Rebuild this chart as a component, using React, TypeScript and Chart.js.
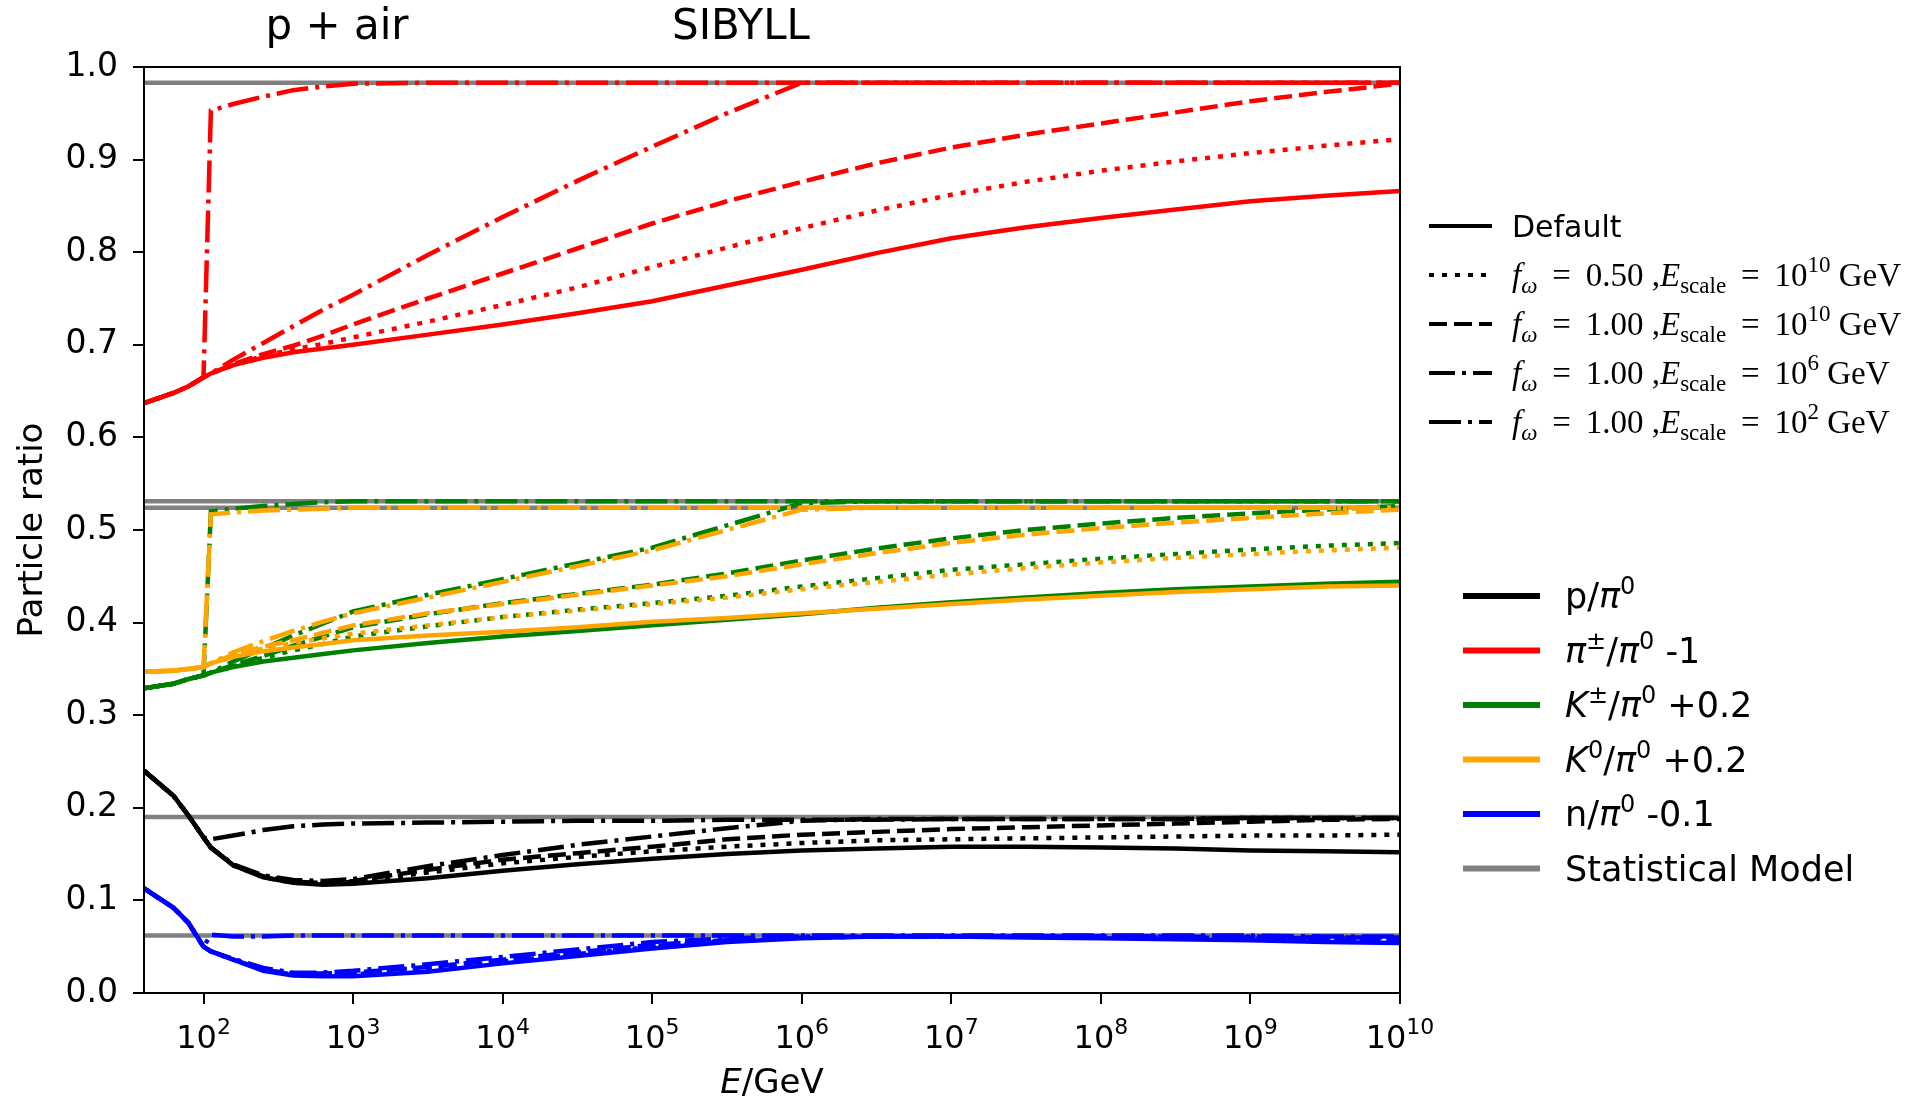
import React, { useEffect, useRef } from 'react';
import { Chart, registerables } from 'chart.js';

Chart.register(...registerables);

// ---------------- data ----------------
// energy grid (GeV)
const energies = [40, 63, 79, 100, 112, 158, 251, 398, 631, 1e3, 3.16e3, 1e4, 3.16e4, 1e5, 3.16e5, 1e6, 3.16e6, 1e7, 3.16e7, 1e8, 3.16e8, 1e9, 3.16e9, 1e10];

// pi+-/pi0 - 1 (red)
const redDefault = [0.637, 0.648, 0.655, 0.665, 0.669, 0.678, 0.686, 0.692, 0.696, 0.700, 0.711, 0.722, 0.734, 0.747, 0.764, 0.781, 0.799, 0.815, 0.827, 0.837, 0.846, 0.855, 0.861, 0.866];
const redDotted = [0.637, 0.648, 0.655, 0.665, 0.669, 0.678, 0.688, 0.695, 0.701, 0.708, 0.725, 0.743, 0.762, 0.784, 0.805, 0.826, 0.845, 0.862, 0.876, 0.888, 0.898, 0.907, 0.915, 0.922];
const redDashed = [0.637, 0.648, 0.655, 0.665, 0.669, 0.679, 0.690, 0.699, 0.710, 0.722, 0.750, 0.777, 0.804, 0.831, 0.855, 0.876, 0.896, 0.913, 0.927, 0.939, 0.951, 0.963, 0.973, 0.982];
const redDashDot6 = [0.637, 0.648, 0.655, 0.665, 0.669, 0.684, 0.702, 0.720, 0.738, 0.754, 0.797, 0.838, 0.877, 0.914, 0.950, 0.983, 0.983, 0.983, 0.983, 0.983, 0.983, 0.983, 0.983, 0.983];
const redDashDot2 = [0.637, 0.648, 0.655, 0.665, 0.953, 0.960, 0.968, 0.975, 0.979, 0.982, 0.983, 0.983, 0.983, 0.983, 0.983, 0.983, 0.983, 0.983, 0.983, 0.983, 0.983, 0.983, 0.983, 0.983];

// K+-/pi0 + 0.2 (green)
const greenDefault = [0.329, 0.334, 0.339, 0.343, 0.346, 0.352, 0.358, 0.362, 0.366, 0.370, 0.378, 0.385, 0.391, 0.397, 0.403, 0.409, 0.416, 0.422, 0.427, 0.432, 0.436, 0.439, 0.442, 0.444];
const greenDotted = [0.329, 0.334, 0.339, 0.343, 0.346, 0.353, 0.362, 0.370, 0.377, 0.385, 0.396, 0.406, 0.414, 0.421, 0.429, 0.439, 0.448, 0.457, 0.463, 0.469, 0.474, 0.479, 0.483, 0.486];
const greenDashed = [0.329, 0.334, 0.339, 0.343, 0.346, 0.354, 0.364, 0.375, 0.385, 0.395, 0.409, 0.421, 0.431, 0.441, 0.453, 0.467, 0.480, 0.491, 0.500, 0.507, 0.513, 0.518, 0.522, 0.526];
const greenDashDot6 = [0.329, 0.334, 0.339, 0.343, 0.346, 0.358, 0.372, 0.386, 0.399, 0.412, 0.430, 0.447, 0.464, 0.481, 0.505, 0.529, 0.531, 0.531, 0.531, 0.531, 0.531, 0.531, 0.531, 0.531];
const greenDashDot2 = [0.329, 0.334, 0.339, 0.343, 0.520, 0.523, 0.526, 0.528, 0.530, 0.531, 0.531, 0.531, 0.531, 0.531, 0.531, 0.531, 0.531, 0.531, 0.531, 0.531, 0.531, 0.531, 0.531, 0.531];

// K0/pi0 + 0.2 (orange)
const orangeDefault = [0.347, 0.348, 0.350, 0.352, 0.356, 0.363, 0.369, 0.373, 0.377, 0.381, 0.386, 0.390, 0.395, 0.401, 0.405, 0.410, 0.415, 0.420, 0.425, 0.429, 0.433, 0.436, 0.439, 0.440];
const orangeDotted = [0.347, 0.348, 0.350, 0.352, 0.356, 0.364, 0.372, 0.378, 0.383, 0.388, 0.397, 0.406, 0.413, 0.420, 0.427, 0.436, 0.444, 0.452, 0.459, 0.465, 0.470, 0.474, 0.478, 0.481];
const orangeDashed = [0.347, 0.348, 0.350, 0.352, 0.356, 0.365, 0.374, 0.381, 0.389, 0.397, 0.410, 0.420, 0.430, 0.440, 0.450, 0.463, 0.475, 0.486, 0.495, 0.502, 0.508, 0.513, 0.518, 0.522];
const orangeDashDot6 = [0.347, 0.348, 0.350, 0.352, 0.356, 0.368, 0.380, 0.391, 0.401, 0.410, 0.427, 0.444, 0.461, 0.478, 0.500, 0.522, 0.524, 0.524, 0.524, 0.524, 0.524, 0.524, 0.524, 0.524];
const orangeDashDot2 = [0.347, 0.348, 0.350, 0.352, 0.517, 0.519, 0.521, 0.522, 0.523, 0.524, 0.524, 0.524, 0.524, 0.524, 0.524, 0.524, 0.524, 0.524, 0.524, 0.524, 0.524, 0.524, 0.524, 0.524];

// p/pi0 (black)
const blackDefault = [0.240, 0.213, 0.192, 0.168, 0.157, 0.138, 0.125, 0.119, 0.117, 0.118, 0.124, 0.132, 0.139, 0.145, 0.150, 0.154, 0.156, 0.158, 0.158, 0.157, 0.156, 0.154, 0.153, 0.152];
const blackDotted = [0.240, 0.213, 0.192, 0.168, 0.157, 0.138, 0.125, 0.119, 0.118, 0.120, 0.130, 0.140, 0.147, 0.153, 0.158, 0.162, 0.165, 0.166, 0.167, 0.168, 0.169, 0.170, 0.170, 0.171];
const blackDashed = [0.240, 0.213, 0.192, 0.168, 0.157, 0.138, 0.126, 0.120, 0.119, 0.121, 0.133, 0.144, 0.151, 0.158, 0.166, 0.171, 0.174, 0.177, 0.179, 0.181, 0.183, 0.185, 0.187, 0.188];
const blackDashDot6 = [0.240, 0.213, 0.192, 0.168, 0.157, 0.139, 0.127, 0.122, 0.121, 0.123, 0.137, 0.149, 0.160, 0.169, 0.178, 0.186, 0.188, 0.188, 0.188, 0.188, 0.188, 0.189, 0.189, 0.189];
const blackDashDot2 = [0.240, 0.213, 0.192, 0.168, 0.166, 0.170, 0.176, 0.180, 0.182, 0.183, 0.184, 0.185, 0.186, 0.186, 0.187, 0.187, 0.187, 0.188, 0.188, 0.188, 0.188, 0.189, 0.189, 0.189];

// n/pi0 - 0.1 (blue)
const blueDefault = [0.113, 0.092, 0.076, 0.050, 0.045, 0.036, 0.024, 0.019, 0.018, 0.018, 0.023, 0.032, 0.040, 0.048, 0.055, 0.059, 0.061, 0.061, 0.060, 0.059, 0.058, 0.057, 0.055, 0.054];
const blueDotted = [0.113, 0.092, 0.076, 0.050, 0.045, 0.036, 0.025, 0.020, 0.019, 0.020, 0.026, 0.034, 0.042, 0.050, 0.056, 0.060, 0.061, 0.061, 0.061, 0.060, 0.060, 0.059, 0.058, 0.057];
const blueDashed = [0.113, 0.092, 0.076, 0.050, 0.045, 0.036, 0.025, 0.021, 0.021, 0.022, 0.028, 0.036, 0.044, 0.052, 0.057, 0.060, 0.061, 0.061, 0.061, 0.061, 0.061, 0.060, 0.059, 0.058];
const blueDashDot6 = [0.113, 0.092, 0.076, 0.050, 0.045, 0.037, 0.027, 0.022, 0.022, 0.024, 0.031, 0.039, 0.047, 0.055, 0.059, 0.061, 0.061, 0.061, 0.061, 0.061, 0.061, 0.061, 0.060, 0.060];
const blueDashDot2 = [0.113, 0.092, 0.076, 0.050, 0.063, 0.061, 0.061, 0.062, 0.062, 0.062, 0.062, 0.062, 0.062, 0.062, 0.062, 0.062, 0.062, 0.062, 0.062, 0.062, 0.062, 0.062, 0.061, 0.061];

// statistical model values
const statP = 0.19;
const statPi = 0.983;
const statKc = 0.531;
const statK0 = 0.524;
const statN = 0.062;

// tick labels / texts
const xTickExponents = [2, 3, 4, 5, 6, 7, 8, 9, 10];
const yTickStep = 0.1;
const titleLeft = 'p + air';
const titleRight = 'SIBYLL';
const yTitle = 'Particle ratio';

// ---------------- styles ----------------
const RED = '#ff0000';
const GREEN = '#008000';
const ORANGE = '#ffa500';
const BLACK = '#000000';
const BLUE = '#0000ff';
const GRAY = '#808080';
const SANS = "'DejaVu Sans', sans-serif";
const SERIF = "'Liberation Serif', 'DejaVu Serif', serif";
const LW = 4.5;

const DASH_DEFAULT: number[] = [];
const DASH_DOT: number[] = [5, 8];
const DASH_DASH: number[] = [18, 7];
const DASH_DD6: number[] = [26, 7, 4, 7];
const DASH_DD2: number[] = [32, 7, 4, 7];
const variantDashes = [DASH_DEFAULT, DASH_DOT, DASH_DASH, DASH_DD6, DASH_DD2];

const speciesList = [
  { color: BLACK, series: [blackDefault, blackDotted, blackDashed, blackDashDot6, blackDashDot2], stat: statP, order: 10 },
  { color: RED, series: [redDefault, redDotted, redDashed, redDashDot6, redDashDot2], stat: statPi, order: 10 },
  { color: ORANGE, series: [orangeDefault, orangeDotted, orangeDashed, orangeDashDot6, orangeDashDot2], stat: statK0, order: 20 },
  { color: GREEN, series: [greenDefault, greenDotted, greenDashed, greenDashDot6, greenDashDot2], stat: statKc, order: 30 },
  { color: BLUE, series: [blueDefault, blueDotted, blueDashed, blueDashDot6, blueDashDot2], stat: statN, order: 10 },
];

type Run = { t: string; font: string; dy?: number };

function measureRuns(ctx: CanvasRenderingContext2D, runs: Run[]) {
  let w = 0;
  for (const r of runs) {
    ctx.font = r.font;
    w += ctx.measureText(r.t).width;
  }
  return w;
}

function drawRuns(ctx: CanvasRenderingContext2D, x: number, y: number, runs: Run[]) {
  let cx = x;
  for (const r of runs) {
    ctx.font = r.font;
    ctx.fillText(r.t, cx, y + (r.dy || 0));
    cx += ctx.measureText(r.t).width;
  }
  return cx;
}

const annotPlugin = {
  id: 'annot',
  afterDatasetsDraw(chart: any) {
    const { ctx, chartArea } = chart;
    ctx.save();
    ctx.strokeStyle = '#000';
    ctx.lineWidth = 2;
    ctx.setLineDash([]);
    ctx.strokeRect(chartArea.left, chartArea.top, chartArea.right - chartArea.left, chartArea.bottom - chartArea.top);
    ctx.restore();
  },
  afterDraw(chart: any) {
    const ctx: CanvasRenderingContext2D = chart.ctx;
    const xs = chart.scales.x;
    const area = chart.chartArea;
    ctx.save();
    ctx.fillStyle = '#000';
    ctx.textBaseline = 'middle';
    ctx.textAlign = 'center';
    ctx.font = `42px ${SANS}`;
    ctx.fillText(titleLeft, 337, 28);
    ctx.fillText(titleRight, 741, 28);

    ctx.textAlign = 'left';
    ctx.textBaseline = 'alphabetic';

    // x tick labels 10^n drawn at the scale's pixel positions
    const TF = 32;
    for (const p of xTickExponents) {
      const px = xs.getPixelForValue(Math.pow(10, p));
      const runs: Run[] = [
        { t: '10', font: `${TF}px ${SANS}` },
        { t: String(p), font: `${Math.round(TF * 0.7)}px ${SANS}`, dy: -14 },
      ];
      const w = measureRuns(ctx, runs);
      drawRuns(ctx, px - w / 2, 1048, runs);
    }

    // x axis title  E/GeV
    const xt: Run[] = [
      { t: 'E', font: `oblique 34px ${SANS}` },
      { t: '/GeV', font: `34px ${SANS}` },
    ];
    const xtw = measureRuns(ctx, xt);
    drawRuns(ctx, (area.left + area.right) / 2 - xtw / 2, 1093, xt);

    // legend 1 (line styles)
    const M = 33;
    const S = 23;
    const it = `italic ${M}px ${SERIF}`;
    const rm = `${M}px ${SERIF}`;
    const sm = `${S}px ${SERIF}`;
    const smIt = `italic ${S}px ${SERIF}`;
    const EQ = ' \u2009=\u2009 ';
    const mathRow = (fw: string, exp: string): Run[] => [
      { t: 'f', font: it },
      { t: 'ω', font: smIt, dy: 7 },
      { t: `${EQ}${fw} ,`, font: rm },
      { t: 'E', font: it },
      { t: 'scale', font: sm, dy: 7 },
      { t: `${EQ}10`, font: rm },
      { t: exp, font: sm, dy: -14 },
      { t: ' GeV', font: rm },
    ];
    const leg1: { dash: number[]; runs: Run[] }[] = [
      { dash: DASH_DEFAULT, runs: [{ t: 'Default', font: `30px ${SANS}` }] },
      { dash: DASH_DOT, runs: mathRow('0.50', '10') },
      { dash: DASH_DASH, runs: mathRow('1.00', '10') },
      { dash: DASH_DD6, runs: mathRow('1.00', '6') },
      { dash: DASH_DD2, runs: mathRow('1.00', '2') },
    ];
    leg1.forEach((e, i) => {
      const y = 226 + i * 49;
      ctx.strokeStyle = '#000';
      ctx.lineWidth = 4;
      ctx.setLineDash(e.dash);
      ctx.beginPath();
      ctx.moveTo(1429, y);
      ctx.lineTo(1492, y);
      ctx.stroke();
      drawRuns(ctx, 1512, y + 11, e.runs);
    });

    // legend 2 (species)
    const L = 35;
    const SP = 24;
    const n = `${L}px ${SANS}`;
    const o = `oblique ${L}px ${SANS}`;
    const sup = `${SP}px ${SANS}`;
    const UP = -14;
    const leg2: { color: string; runs: Run[] }[] = [
      { color: BLACK, runs: [{ t: 'p/', font: n }, { t: 'π', font: o }, { t: '0', font: sup, dy: UP }] },
      { color: RED, runs: [{ t: 'π', font: o }, { t: '±', font: sup, dy: UP }, { t: '/', font: n }, { t: 'π', font: o }, { t: '0', font: sup, dy: UP }, { t: ' -1', font: n }] },
      { color: GREEN, runs: [{ t: 'K', font: o }, { t: '±', font: sup, dy: UP }, { t: '/', font: n }, { t: 'π', font: o }, { t: '0', font: sup, dy: UP }, { t: ' +0.2', font: n }] },
      { color: ORANGE, runs: [{ t: 'K', font: o }, { t: '0', font: sup, dy: UP }, { t: '/', font: n }, { t: 'π', font: o }, { t: '0', font: sup, dy: UP }, { t: ' +0.2', font: n }] },
      { color: BLUE, runs: [{ t: 'n/', font: n }, { t: 'π', font: o }, { t: '0', font: sup, dy: UP }, { t: ' -0.1', font: n }] },
      { color: GRAY, runs: [{ t: 'Statistical Model', font: n }] },
    ];
    leg2.forEach((e, i) => {
      const y = 596 + i * 54.5;
      ctx.strokeStyle = e.color;
      ctx.lineWidth = 6;
      ctx.setLineDash([]);
      ctx.beginPath();
      ctx.moveTo(1463, y);
      ctx.lineTo(1540, y);
      ctx.stroke();
      drawRuns(ctx, 1565, y + 12, e.runs);
    });
    ctx.restore();
  },
};

function buildDatasets() {
  const ds: any[] = [];
  for (const sp of speciesList) {
    sp.series.forEach((vals, vi) => {
      ds.push({
        label: `${sp.color}-${vi}`,
        data: energies.map((e, i) => ({ x: e, y: vals[i] })),
        borderColor: sp.color,
        backgroundColor: sp.color,
        borderWidth: LW,
        borderDash: variantDashes[vi],
        pointRadius: 0,
        tension: 0,
        fill: false,
        order: sp.order,
      });
    });
  }
  for (const sp of speciesList) {
    ds.push({
      label: `stat-${sp.color}`,
      data: [
        { x: energies[0], y: sp.stat },
        { x: energies[energies.length - 1], y: sp.stat },
      ],
      borderColor: GRAY,
      backgroundColor: GRAY,
      borderWidth: LW,
      pointRadius: 0,
      fill: false,
      order: 100,
    });
  }
  return ds;
}

export default function App() {
  const ref = useRef<HTMLCanvasElement>(null);
  useEffect(() => {
    document.body.style.margin = '0';
    document.body.style.overflow = 'hidden';
    const chart = new Chart(ref.current as HTMLCanvasElement, {
      type: 'line',
      data: { datasets: buildDatasets() },
      plugins: [annotPlugin],
      options: {
        animation: false,
        responsive: false,
        devicePixelRatio: 1,
        layout: { padding: { left: 0, right: 517, top: 67, bottom: 0 } },
        plugins: { legend: { display: false }, tooltip: { enabled: false }, title: { display: false } },
        scales: {
          x: {
            type: 'logarithmic',
            min: energies[0],
            max: energies[energies.length - 1],
            afterBuildTicks: (axis: any) => {
              axis.ticks = xTickExponents.map((p) => ({ value: Math.pow(10, p) }));
            },
            afterFit: (scale: any) => {
              scale.height = 106;
            },
            border: { display: false },
            grid: { display: true, drawOnChartArea: false, drawTicks: true, tickLength: 11, color: '#000', lineWidth: 2 },
            ticks: { display: false, autoSkip: false, maxRotation: 0, minRotation: 0 },
            title: { display: false },
          },
          y: {
            type: 'linear',
            min: 0,
            max: 1,
            afterFit: (scale: any) => {
              scale.width = 144;
            },
            border: { display: false },
            grid: { display: true, drawOnChartArea: false, drawTicks: true, tickLength: 11, color: '#000', lineWidth: 2 },
            ticks: {
              stepSize: yTickStep,
              padding: 15,
              color: '#000',
              font: { family: 'DejaVu Sans', size: 33 },
              callback: (v: any) => Number(v).toFixed(1),
            },
            title: {
              display: true,
              text: yTitle,
              color: '#000',
              font: { family: 'DejaVu Sans', size: 34 },
              padding: { top: 13, bottom: 0 },
            },
          },
        },
      } as any,
    });
    return () => chart.destroy();
  }, []);
  return (
    <canvas
      ref={ref}
      width={1917}
      height={1099}
      style={{ display: 'block', width: '1917px', height: '1099px' }}
    />
  );
}
